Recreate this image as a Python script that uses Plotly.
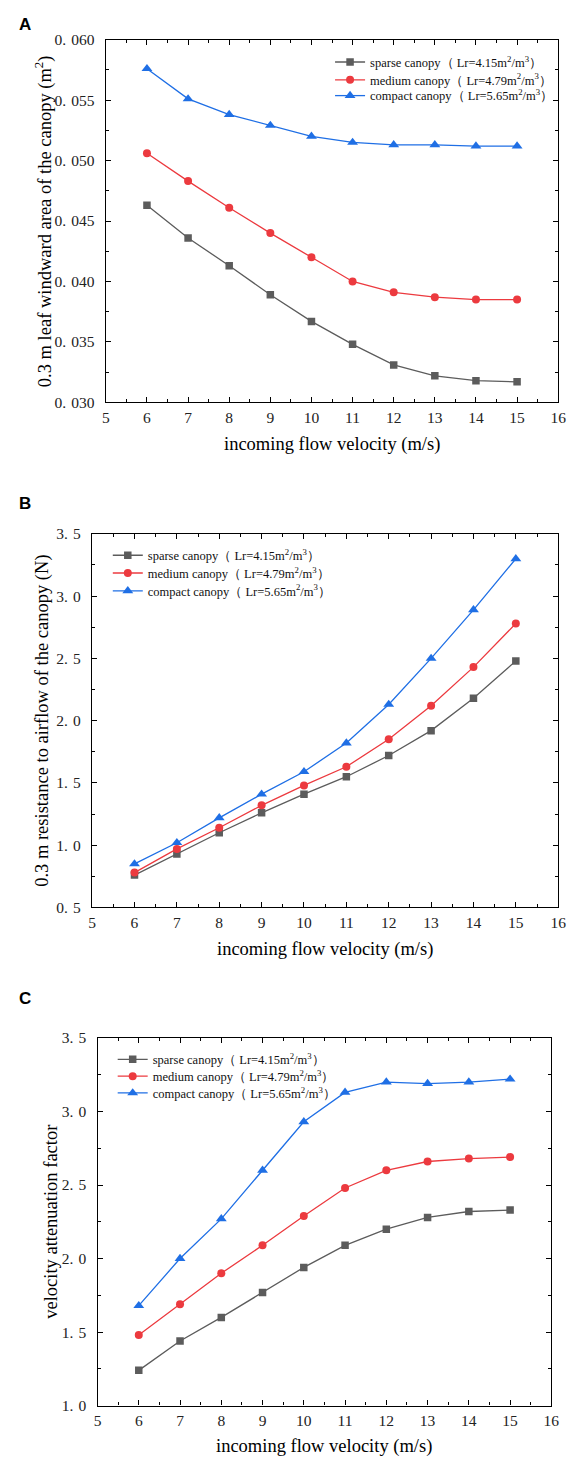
import plotly.graph_objects as go

W, H = 576, 1469

velocity = [6, 7, 8, 9, 10, 11, 12, 13, 14, 15]

# Panel A: leaf windward area (m^2)
area_sparse = [0.0463, 0.0436, 0.0413, 0.0389, 0.0367, 0.0348, 0.0331, 0.0322, 0.0318, 0.0317]
area_medium = [0.0506, 0.0483, 0.0461, 0.0440, 0.0420, 0.0400, 0.0391, 0.0387, 0.0385, 0.0385]
area_compact = [0.0576, 0.0551, 0.0538, 0.0529, 0.0520, 0.0515, 0.0513, 0.0513, 0.0512, 0.0512]

# Panel B: resistance to airflow (N)
res_sparse = [0.76, 0.93, 1.10, 1.26, 1.41, 1.55, 1.72, 1.92, 2.18, 2.48]
res_medium = [0.78, 0.97, 1.14, 1.32, 1.48, 1.63, 1.85, 2.12, 2.43, 2.78]
res_compact = [0.85, 1.02, 1.22, 1.41, 1.59, 1.82, 2.13, 2.50, 2.89, 3.30]

# Panel C: velocity attenuation factor
att_sparse = [1.24, 1.44, 1.60, 1.77, 1.94, 2.09, 2.20, 2.28, 2.32, 2.33]
att_medium = [1.48, 1.69, 1.90, 2.09, 2.29, 2.48, 2.60, 2.66, 2.68, 2.69]
att_compact = [1.68, 2.00, 2.27, 2.60, 2.93, 3.13, 3.20, 3.19, 3.20, 3.22]

series_names = [
    "sparse canopy（ Lr=4.15m<sup>2</sup>/m<sup>3</sup>）",
    "medium canopy（ Lr=4.79m<sup>2</sup>/m<sup>3</sup>）",
    "compact canopy（ Lr=5.65m<sup>2</sup>/m<sup>3</sup>）",
]

x_tickvals = [5, 6, 7, 8, 9, 10, 11, 12, 13, 14, 15, 16]
x_ticktext = ["5", "6", "7", "8", "9", "10", "11", "12", "13", "14", "15", "16"]

SP = "\u2004"
yA_tickvals = [0.030, 0.035, 0.040, 0.045, 0.050, 0.055, 0.060]
yA_ticktext = ["0." + SP + "030", "0." + SP + "035", "0." + SP + "040", "0." + SP + "045",
               "0." + SP + "050", "0." + SP + "055", "0." + SP + "060"]
yB_tickvals = [0.5, 1.0, 1.5, 2.0, 2.5, 3.0, 3.5]
yB_ticktext = ["0." + SP + "5", "1." + SP + "0", "1." + SP + "5", "2." + SP + "0",
               "2." + SP + "5", "3." + SP + "0", "3." + SP + "5"]
yC_tickvals = [1.0, 1.5, 2.0, 2.5, 3.0, 3.5]
yC_ticktext = ["1." + SP + "0", "1." + SP + "5", "2." + SP + "0", "2." + SP + "5",
               "3." + SP + "0", "3." + SP + "5"]

x_title = "incoming flow velocity (m/s)"
yA_title = "0.3 m leaf windward area of the canopy (m<sup>2</sup>)"
yB_title = "0.3 m resistance to airflow of the canopy (N)"
yC_title = "velocity attenuation factor"

colors = ["#5c5c5c", "#ec3a3f", "#1f6fe5"]
symbols = ["square", "circle", "triangle-up"]
msizes = [7.5, 8, 9.5]

SERIF = "Liberation Serif, Times New Roman, serif"

# plot-area rectangles in pixels: left, right, top, bottom
panels = [
    dict(l=104, r=566, t=31, b=398, letter="A", ly=16, xt_y=441, yt_x=40),
    dict(l=90, r=566, t=531, b=909, letter="B", ly=500, xt_y=952, yt_x=40),
    dict(l=95.5, r=559, t=1041, b=1413, letter="C", ly=1001, xt_y=1454, yt_x=48),
]
data_sets = [
    (area_sparse, area_medium, area_compact),
    (res_sparse, res_medium, res_compact),
    (att_sparse, att_medium, att_compact),
]
# legend entry positions (left x, row centre y) per panel
legend_x = [333, 106, 111]
legend_rows = [(54, 72, 88), (553, 571, 589), (1063, 1080, 1097)]
y_ranges = [[0.030, 0.060], [0.5, 3.5], [1.0, 3.5]]
y_ticks = [(yA_tickvals, yA_ticktext, 0.0025), (yB_tickvals, yB_ticktext, 0.25), (yC_tickvals, yC_ticktext, 0.25)]
y_titles = [yA_title, yB_title, yC_title]

fig = go.Figure()
layout = dict(
    width=W, height=H,
    margin=dict(l=0, r=0, t=0, b=0),
    paper_bgcolor="white", plot_bgcolor="white",
    showlegend=True,
    annotations=[],
)

for i, (p, ds) in enumerate(zip(panels, data_sets)):
    sfx = "" if i == 0 else str(i + 1)
    for j in range(3):
        k = i * 3 + j
        leg = "legend" if k == 0 else "legend" + str(k + 1)
        fig.add_trace(go.Scatter(
            x=velocity, y=ds[j], name=series_names[j],
            mode="lines+markers",
            line=dict(color=colors[j], width=1.3),
            marker=dict(symbol=symbols[j], size=msizes[j], color=colors[j]),
            xaxis="x" + sfx, yaxis="y" + sfx, legend=leg,
        ))
        layout[leg] = dict(
            x=legend_x[i] / W, y=1 - legend_rows[i][j] / H, xanchor="left", yanchor="middle",
            bgcolor="rgba(0,0,0,0)", borderwidth=0,
            font=dict(family=SERIF, size=12.5, color="#111"),
            itemwidth=30,
        )
    common = dict(
        showline=True, linecolor="black", linewidth=1.4, mirror="allticks",
        ticks="inside", ticklen=5, tickwidth=1, tickcolor="black",
        showgrid=False, zeroline=False,
        tickfont=dict(family=SERIF, size=15.5, color="#222"),
    )
    layout["xaxis" + sfx] = dict(
        common,
        domain=[p["l"] / W, p["r"] / W], anchor="y" + sfx,
        range=[5, 16], tickmode="array", tickvals=x_tickvals, ticktext=x_ticktext,
        minor=dict(ticks="inside", ticklen=3, tickwidth=1, tickcolor="black", tickmode="linear", tick0=5.5, dtick=1),
        ticklabelstandoff=1,
    )
    tv, tt, mdt = y_ticks[i]
    layout["yaxis" + sfx] = dict(
        common,
        domain=[1 - p["b"] / H, 1 - p["t"] / H], anchor="x" + sfx,
        range=y_ranges[i], tickmode="array", tickvals=tv, ticktext=tt,
        minor=dict(ticks="inside", ticklen=3, tickwidth=1, tickcolor="black", tickmode="linear", tick0=y_ranges[i][0], dtick=mdt),
        ticklabelstandoff=7,
    )
    # panel letter
    layout["annotations"].append(dict(
        text="<b>" + p["letter"] + "</b>", x=13 / W, y=1 - p["ly"] / H,
        xref="paper", yref="paper", xanchor="left", yanchor="middle",
        showarrow=False, font=dict(family="Liberation Sans, Arial, sans-serif", size=17, color="black"),
    ))
    # x title
    layout["annotations"].append(dict(
        text=x_title, x=(p["l"] + p["r"]) / 2 / W, y=1 - p["xt_y"] / H,
        xref="paper", yref="paper", xanchor="center", yanchor="middle",
        showarrow=False, font=dict(family=SERIF, size=18.5, color="black"),
    ))
    # y title
    layout["annotations"].append(dict(
        text=y_titles[i], x=p["yt_x"] / W, y=1 - (p["t"] + p["b"]) / 2 / H,
        xref="paper", yref="paper", xanchor="center", yanchor="middle",
        textangle=-90, showarrow=False, font=dict(family=SERIF, size=18.5, color="black"),
    ))

fig.update_layout(**layout)
fig.write_html(
    "out.html",
    config={"displayModeBar": False},
    post_script="document.body.style.margin='0';document.body.style.overflow='hidden';",
)
